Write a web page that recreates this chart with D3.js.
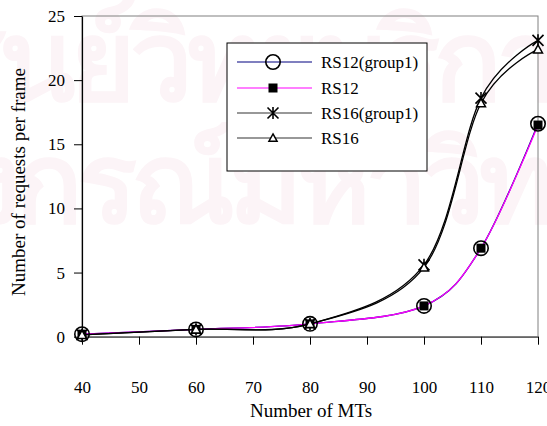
<!DOCTYPE html>
<html><head><meta charset="utf-8">
<script src="https://cdn.jsdelivr.net/npm/d3@7"></script>
<style>
body{margin:0;background:#fff}
svg{display:block}
</style>
</head><body>
<script>
const mts = [40, 60, 80, 100, 110, 120];
const rs12g1 = [0.2, 0.57, 1.0, 2.4, 6.9, 16.6];
const rs12 = [0.2, 0.57, 1.0, 2.4, 6.9, 16.5];
const rs16g1 = [0.15, 0.57, 1.0, 5.6, 18.6, 23.1];
const rs16 = [0.15, 0.57, 1.0, 5.4, 18.2, 22.4];
const xTicks = [40, 50, 60, 70, 80, 90, 100, 110, 120];
const yTicks = [0, 5, 10, 15, 20, 25];
const seriesNames = ["RS12(group1)", "RS12", "RS16(group1)", "RS16"];
const watermark = ["ศูนย์วิทยบริการ", "จุฬาลงกรณ์มหาวิทยาลัย"];
const FONT = "Liberation Serif";

const W = 547, H = 426;
const svg = d3.select("body").append("svg").attr("width", W).attr("height", H);

// watermark
const wm = svg.append("g").attr("font-weight", "bold").attr("font-size", 112).attr("letter-spacing", -6);
wm.append("text").attr("x", -66).attr("y", 100).attr("fill", "#fcf4f7").text(watermark[0]);
wm.append("text").attr("x", -285).attr("y", 222).attr("fill", "#fcf4f7").text(watermark[1]);

const x = d3.scaleLinear().domain([40, 120]).range([82, 538]);
const y = d3.scaleLinear().domain([0, 25]).range([336.7, 16]);

svg.append("rect").attr("x", x(40)).attr("y", y(25)).attr("width", x(120) - x(40)).attr("height", y(0) - y(25))
  .attr("fill", "none").attr("stroke", "#808080").attr("stroke-width", 1);

function styleText(sel, size) { sel.attr("font-family", FONT).attr("font-size", size || 17).attr("fill", "#000"); }

const xAxis = svg.append("g").attr("transform", `translate(0,${y(0)})`)
  .call(d3.axisBottom(x).tickValues(xTicks).tickSize(8).tickSizeOuter(0).tickPadding(36));
xAxis.attr("font-family", FONT).attr("font-size", 17);
xAxis.select(".domain").attr("stroke", "#666").attr("stroke-width", 1.5);
xAxis.selectAll(".tick line").attr("stroke", "#000");
styleText(xAxis.selectAll("text"));

const yAxis = svg.append("g").attr("transform", `translate(${x(40)},0)`)
  .call(d3.axisLeft(y).tickValues(yTicks).tickSize(8).tickSizeOuter(0).tickPadding(9));
yAxis.attr("font-family", FONT).attr("font-size", 17);
yAxis.select(".domain").attr("stroke", "#000").attr("stroke-width", 1.2);
yAxis.selectAll(".tick line").attr("stroke", "#000");
styleText(yAxis.selectAll("text"));

styleText(svg.append("text").attr("x", 311).attr("y", 417).attr("text-anchor", "middle").text("Number of MTs"), 19);
styleText(svg.append("text").attr("transform", "translate(25,182) rotate(-90)").attr("text-anchor", "middle")
  .text("Number of requests per frame"), 19);

const line = d3.line().x(d => x(d[0])).y(d => y(d[1])).curve(d3.curveCatmullRom.alpha(0));
const series = [
  {name: seriesNames[0], vals: rs12g1, color: "#000080", marker: "circle"},
  {name: seriesNames[1], vals: rs12, color: "#ff00ff", marker: "square"},
  {name: seriesNames[2], vals: rs16g1, color: "#000", marker: "star"},
  {name: seriesNames[3], vals: rs16, color: "#000", marker: "triangle"}
];

function drawMarker(g, type, cx, cy, scale) {
  const s = scale || 1;
  if (type === "circle") {
    g.append("circle").attr("cx", cx).attr("cy", cy).attr("r", 7.2 * s).attr("fill", "none").attr("stroke", "#000").attr("stroke-width", 1.6);
  } else if (type === "square") {
    g.append("rect").attr("x", cx - 4.5 * s).attr("y", cy - 4.5 * s).attr("width", 9 * s).attr("height", 9 * s).attr("fill", "#000");
  } else if (type === "star") {
    const r = 5.5 * s;
    g.append("path").attr("d", `M${cx - r},${cy - r}L${cx + r},${cy + r}M${cx - r},${cy + r}L${cx + r},${cy - r}M${cx},${cy - r * 1.1}L${cx},${cy + r * 1.1}`)
      .attr("stroke", "#000").attr("stroke-width", 1.6).attr("fill", "none");
  } else if (type === "triangle") {
    const r = 4.5 * s;
    g.append("path").attr("d", `M${cx},${cy - r}L${cx + r},${cy + r * 0.8}L${cx - r},${cy + r * 0.8}Z`)
      .attr("stroke", "#000").attr("stroke-width", 1.5).attr("fill", "#fff");
  }
}

series.forEach(s => {
  const pts = mts.map((m, i) => [m, s.vals[i]]);
  svg.append("path").datum(pts).attr("d", line).attr("fill", "none").attr("stroke", s.color).attr("stroke-width", 1.3);
});
series.forEach(s => {
  const g = svg.append("g");
  mts.forEach((m, i) => drawMarker(g, s.marker, x(m), y(s.vals[i])));
});

const lg = svg.append("g");
lg.append("rect").attr("x", 227).attr("y", 43).attr("width", 200).attr("height", 128).attr("fill", "#fff").attr("stroke", "#000").attr("stroke-width", 1);
const rowsY = [62, 88, 113, 138];
series.forEach((s, i) => {
  const ry = rowsY[i];
  lg.append("line").attr("x1", 237).attr("x2", 312).attr("y1", ry).attr("y2", ry).attr("stroke", s.color === "#000" ? "#333" : s.color).attr("stroke-width", 1.2);
  drawMarker(lg, s.marker, 273, ry, s.marker === "triangle" ? 0.9 : 1);
  styleText(lg.append("text").attr("x", 321).attr("y", ry + 6).text(s.name));
});
</script>
</body></html>
